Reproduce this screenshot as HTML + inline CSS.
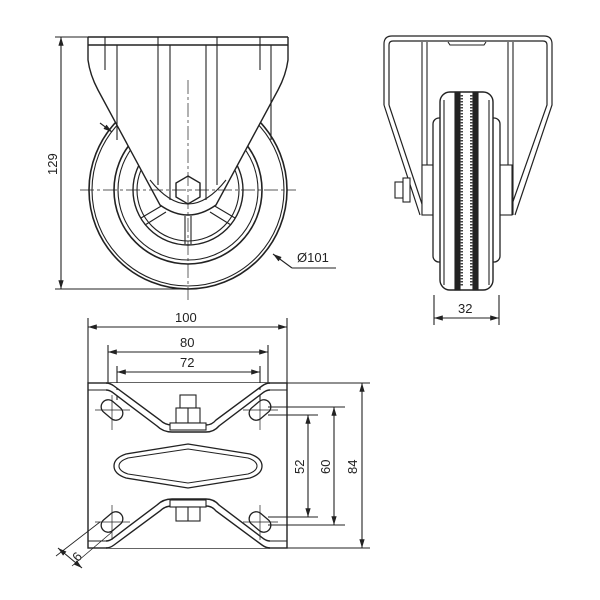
<!DOCTYPE html>
<html><head><style>body{margin:0;background:#fff}svg{display:block}</style></head>
<body>
<svg width="600" height="600" viewBox="0 0 600 600" xmlns="http://www.w3.org/2000/svg" font-family="Liberation Sans, sans-serif" font-size="13" fill="none" stroke="#222" stroke-width="1.1">
<defs>
<marker id="a" viewBox="0 0 10 6" refX="10" refY="3" markerWidth="8" markerHeight="5" orient="auto-start-reverse"><path d="M0,0L10,3L0,6z" fill="#222" stroke="none"/></marker>
</defs>
<!-- ===== Front view ===== -->
<g>
<circle cx="188" cy="190" r="99" stroke-width="1.6"/>
<circle cx="188" cy="190" r="96"/>
<circle cx="188" cy="190" r="74" stroke-width="1.6"/>
<circle cx="188" cy="190" r="70"/>
<circle cx="188" cy="190" r="55" stroke-width="1.4"/>
<circle cx="188" cy="190" r="51"/>
<path d="M141,218 L163,205 M145,225 L166,212 M235,218 L213,205 M231,225 L210,212 M185,216 V244 M191,216 V244"/>
<path d="M88,37 H288 M88,45 H288 M88,37 V60 Q90,75 98,90 L160,205 Q188,225 216,205 L278,90 Q286,75 288,60 V37" fill="#fff" stroke-width="1.4"/>
<path d="M105,37 V70 M117,45 V140 M260,37 V70 M271,45 V140 M158,37 V185 M170,45 V200 M206,45 V200 M217,37 V185"/>
<path d="M150,180 Q188,228 226,180"/>
<polygon points="188,176 200,183 200,197 188,204 176,197 176,183" fill="#fff" stroke-width="1.4"/>
<path d="M188,80 V300 M80,190 H296" stroke-dasharray="14 3 3 3" stroke-width="0.7"/>
<path d="M55,37 H88 M55,289 H188"/>
<path d="M61,37 V289" marker-start="url(#a)" marker-end="url(#a)"/>
<text x="0" y="0" transform="translate(57,175) rotate(-90)" fill="#222" stroke="none">129</text>
<path d="M100,123 L112,132" marker-end="url(#a)"/>
<path d="M292,268 L273,254" marker-end="url(#a)"/>
<path d="M292,268 H336"/>
<text x="297" y="262" fill="#222" stroke="none">Ø101</text>
</g>
<!-- ===== Side view ===== -->
<g>
<path d="M384,105 V44 Q384,36 392,36 H544 Q552,36 552,44 V105 L515,215 M389,105 V45 Q389,41 393,41 H543 Q547,41 547,45 V105 L510,210 M384,105 L420,215 M389,105 L424,210" stroke-width="1.2"/>
<path d="M422,42 V215 M427,42 V215 M508,42 V215 M513,42 V215"/>
<path d="M448,42 L450,45 H484 L486,42"/>
<rect x="422" y="165" width="15" height="50" fill="#fff"/>
<rect x="497" y="165" width="15" height="50" fill="#fff"/>
<rect x="433" y="118" width="67" height="144" rx="6" fill="#fff" stroke-width="1.3"/>
<rect x="440" y="92" width="53" height="198" rx="10" fill="#fff" stroke-width="1.4"/>
<path d="M444,100 V285 M489,100 V285"/>
<rect x="455" y="92" width="5" height="198" fill="#222"/>
<rect x="473" y="92" width="5" height="198" fill="#222"/>
<path d="M461.5,95 V287 M471.5,95 V287" stroke-dasharray="1.5 1.5" stroke-width="3" stroke="#444"/>
<rect x="395" y="182" width="8" height="16" fill="#fff"/>
<rect x="403" y="178" width="7" height="24" fill="#fff"/>
<path d="M434,295 V325 M499,295 V325"/>
<path d="M434,318 H499" marker-start="url(#a)" marker-end="url(#a)"/>
<text x="458" y="313" fill="#222" stroke="none">32</text>
</g>
<!-- ===== Top view ===== -->
<g>
<rect x="88" y="383" width="199" height="165" stroke-width="1.4"/>
<path d="M88,383 V318 M287,383 V318 M108,383 V345 M268,383 V345 M117,400 V366 M260,400 V366"/>
<path d="M88,327 H287" marker-start="url(#a)" marker-end="url(#a)"/>
<path d="M108,352 H268" marker-start="url(#a)" marker-end="url(#a)"/>
<path d="M117,372 H260" marker-start="url(#a)" marker-end="url(#a)"/>
<text x="175" y="322" fill="#222" stroke="none">100</text>
<text x="180" y="347" fill="#222" stroke="none">80</text>
<text x="180" y="367" fill="#222" stroke="none">72</text>
<path d="M106,383 Q110,383 114,386 L160,420 Q165,425 172,425 H206 Q212,425 216,420 L262,386 Q266,383 270,383 M106,390 Q109,390 112,392 L157,426 Q163,432 172,432 H206 Q214,432 219,426 L264,392 Q267,390 270,390" fill="#fff" stroke-width="1.4"/>
<path d="M88,390 H106 M270,390 H287"/>
<path d="M106,548 Q110,548 114,545 L160,511 Q165,506 172,506 H206 Q212,506 216,511 L262,545 Q266,548 270,548 M106,541 Q109,541 112,539 L157,505 Q163,499 172,499 H206 Q214,499 219,505 L264,539 Q267,541 270,541" fill="#fff" stroke-width="1.4"/>
<path d="M88,541 H106 M270,541 H287"/>
<g stroke-width="1.3" fill="#fff">
<rect x="100" y="403" width="24" height="14" rx="7" transform="rotate(40 112 410)"/>
<rect x="248" y="403" width="24" height="14" rx="7" transform="rotate(-40 260 410)"/>
<rect x="100" y="515" width="24" height="14" rx="7" transform="rotate(-40 112 522)"/>
<rect x="248" y="515" width="24" height="14" rx="7" transform="rotate(40 260 522)"/>
</g>
<path d="M95,410 H130 M112,395 V430 M243,410 H278 M260,395 V430 M95,522 H130 M112,505 V540 M243,522 H278 M260,505 V540" stroke-width="0.7"/>
<rect x="180" y="395" width="16" height="13" fill="#fff"/>
<rect x="176" y="408" width="24" height="15" fill="#fff"/>
<path d="M188,408 V423"/>
<rect x="170" y="423" width="36" height="7" fill="#fff"/>
<rect x="170" y="500" width="36" height="7" fill="#fff"/>
<rect x="176" y="507" width="24" height="14" fill="#fff"/>
<path d="M188,507 V521"/>
<path d="M188,444 L250,454 Q262,458 262,466 Q262,474 250,478 L188,488 L126,478 Q114,474 114,466 Q114,458 126,454 Z" stroke-width="1.3"/>
<path d="M188,449 L248,458 Q257,461 257,466 Q257,471 248,474 L188,483 L128,474 Q119,471 119,466 Q119,461 128,458 Z"/>
<path d="M287,383 H370 M287,548 H370 M268,407 H345 M268,525 H345 M268,415 H318 M268,517 H318"/>
<path d="M362,383 V548" marker-start="url(#a)" marker-end="url(#a)"/>
<path d="M334,407 V525" marker-start="url(#a)" marker-end="url(#a)"/>
<path d="M308,415 V517" marker-start="url(#a)" marker-end="url(#a)"/>
<text transform="translate(304,474) rotate(-90)" fill="#222" stroke="none">52</text>
<text transform="translate(330,474) rotate(-90)" fill="#222" stroke="none">60</text>
<text transform="translate(357,474) rotate(-90)" fill="#222" stroke="none">84</text>
<path d="M100,522 L56,556 M112,532 L72,566" stroke-width="0.8"/>
<path d="M58,548 L82,568" marker-start="url(#a)" marker-end="url(#a)"/>
<text transform="translate(76,551) rotate(130)" fill="#222" stroke="none">9</text>
</g>
</svg>
</body></html>
